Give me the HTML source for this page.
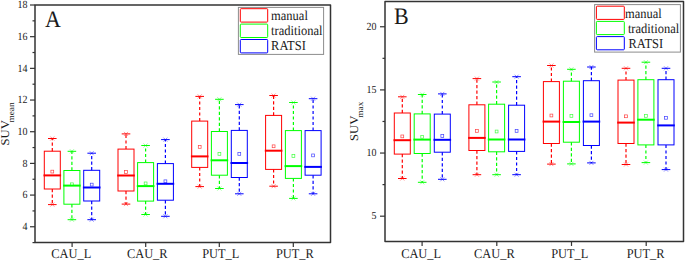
<!DOCTYPE html>
<html><head><meta charset="utf-8"><style>
html,body{margin:0;padding:0;background:#fff;}
svg{display:block;}
text{font-family:"Liberation Serif",serif;fill:#1a1a1a;text-rendering:geometricPrecision;}
.tk{font-size:10px;}
.xl{font-size:12.4px;}
.lg{font-size:12.5px;}
.pl{font-size:22px;}
.yl{font-size:11.8px;}
.sub{font-size:8.6px;}
</style></head><body>
<svg width="685" height="263" viewBox="0 0 685 263">
<rect x="35" y="5" width="295.5" height="237.6" fill="none" stroke="#333" stroke-width="1.5" stroke-linejoin="round"/>
<line x1="30" y1="226.76" x2="35" y2="226.76" stroke="#333" stroke-width="1.2"/>
<text transform="translate(27.5,230.16) scale(1,1.1)" text-anchor="end" class="tk">4</text>
<line x1="30" y1="195.08" x2="35" y2="195.08" stroke="#333" stroke-width="1.2"/>
<text transform="translate(27.5,198.48) scale(1,1.1)" text-anchor="end" class="tk">6</text>
<line x1="30" y1="163.4" x2="35" y2="163.4" stroke="#333" stroke-width="1.2"/>
<text transform="translate(27.5,166.8) scale(1,1.1)" text-anchor="end" class="tk">8</text>
<line x1="30" y1="131.72" x2="35" y2="131.72" stroke="#333" stroke-width="1.2"/>
<text transform="translate(27.5,135.12) scale(1,1.1)" text-anchor="end" class="tk">10</text>
<line x1="30" y1="100.04" x2="35" y2="100.04" stroke="#333" stroke-width="1.2"/>
<text transform="translate(27.5,103.44) scale(1,1.1)" text-anchor="end" class="tk">12</text>
<line x1="30" y1="68.36" x2="35" y2="68.36" stroke="#333" stroke-width="1.2"/>
<text transform="translate(27.5,71.76) scale(1,1.1)" text-anchor="end" class="tk">14</text>
<line x1="30" y1="36.68" x2="35" y2="36.68" stroke="#333" stroke-width="1.2"/>
<text transform="translate(27.5,40.08) scale(1,1.1)" text-anchor="end" class="tk">16</text>
<line x1="30" y1="5" x2="35" y2="5" stroke="#333" stroke-width="1.2"/>
<text transform="translate(27.5,8.4) scale(1,1.1)" text-anchor="end" class="tk">18</text>
<line x1="32.5" y1="242.6" x2="35" y2="242.6" stroke="#333" stroke-width="1.2"/>
<line x1="32.5" y1="210.92" x2="35" y2="210.92" stroke="#333" stroke-width="1.2"/>
<line x1="32.5" y1="179.24" x2="35" y2="179.24" stroke="#333" stroke-width="1.2"/>
<line x1="32.5" y1="147.56" x2="35" y2="147.56" stroke="#333" stroke-width="1.2"/>
<line x1="32.5" y1="115.88" x2="35" y2="115.88" stroke="#333" stroke-width="1.2"/>
<line x1="32.5" y1="84.2" x2="35" y2="84.2" stroke="#333" stroke-width="1.2"/>
<line x1="32.5" y1="52.52" x2="35" y2="52.52" stroke="#333" stroke-width="1.2"/>
<line x1="32.5" y1="20.84" x2="35" y2="20.84" stroke="#333" stroke-width="1.2"/>
<line x1="72.1" y1="242.6" x2="72.1" y2="247.1" stroke="#333" stroke-width="1.2"/>
<text transform="translate(71.25,257.8) scale(1,1.08)" text-anchor="middle" class="xl">CAU_L</text>
<line x1="145.7" y1="242.6" x2="145.7" y2="247.1" stroke="#333" stroke-width="1.2"/>
<text transform="translate(147.25,257.8) scale(1,1.08)" text-anchor="middle" class="xl">CAU_R</text>
<line x1="219.3" y1="242.6" x2="219.3" y2="247.1" stroke="#333" stroke-width="1.2"/>
<text transform="translate(220.75,257.8) scale(1,1.08)" text-anchor="middle" class="xl">PUT_L</text>
<line x1="293.3" y1="242.6" x2="293.3" y2="247.1" stroke="#333" stroke-width="1.2"/>
<text transform="translate(294.85,257.8) scale(1,1.08)" text-anchor="middle" class="xl">PUT_R</text>
<line x1="52.3" y1="151.2" x2="52.3" y2="138.5" stroke="#ff0000" stroke-width="1.2" stroke-dasharray="3.2 2.3"/>
<line x1="52.3" y1="189" x2="52.3" y2="204.6" stroke="#ff0000" stroke-width="1.2" stroke-dasharray="3.2 2.3"/>
<line x1="48" y1="138.5" x2="56.6" y2="138.5" stroke="#ff0000" stroke-width="1"/>
<path d="M50.3 136.5L54.3 140.5M54.3 136.5L50.3 140.5" stroke="#ff0000" stroke-width="0.7" opacity="0.6"/>
<line x1="48" y1="204.6" x2="56.6" y2="204.6" stroke="#ff0000" stroke-width="1"/>
<path d="M50.3 202.6L54.3 206.6M54.3 202.6L50.3 206.6" stroke="#ff0000" stroke-width="0.7" opacity="0.6"/>
<rect x="44.3" y="151.2" width="16" height="37.8" fill="none" stroke="#ff0000" stroke-width="1"/>
<line x1="43.5" y1="175.4" x2="61.1" y2="175.4" stroke="#ff0000" stroke-width="2"/>
<rect x="50.9" y="170.2" width="2.8" height="2.8" fill="none" stroke="#ff0000" stroke-width="0.7" opacity="0.75"/>
<line x1="71.9" y1="170.5" x2="71.9" y2="151.3" stroke="#00ff00" stroke-width="1.2" stroke-dasharray="3.2 2.3"/>
<line x1="71.9" y1="204.2" x2="71.9" y2="219.7" stroke="#00ff00" stroke-width="1.2" stroke-dasharray="3.2 2.3"/>
<line x1="67.6" y1="151.3" x2="76.2" y2="151.3" stroke="#00ff00" stroke-width="1"/>
<path d="M69.9 149.3L73.9 153.3M73.9 149.3L69.9 153.3" stroke="#00ff00" stroke-width="0.7" opacity="0.6"/>
<line x1="67.6" y1="219.7" x2="76.2" y2="219.7" stroke="#00ff00" stroke-width="1"/>
<path d="M69.9 217.7L73.9 221.7M73.9 217.7L69.9 221.7" stroke="#00ff00" stroke-width="0.7" opacity="0.6"/>
<rect x="63.9" y="170.5" width="16" height="33.7" fill="none" stroke="#00ff00" stroke-width="1"/>
<line x1="63.1" y1="185.6" x2="80.7" y2="185.6" stroke="#00ff00" stroke-width="2"/>
<rect x="70.5" y="182.9" width="2.8" height="2.8" fill="none" stroke="#00ff00" stroke-width="0.7" opacity="0.75"/>
<line x1="91.7" y1="170.3" x2="91.7" y2="153.2" stroke="#0000ff" stroke-width="1.2" stroke-dasharray="3.2 2.3"/>
<line x1="91.7" y1="201" x2="91.7" y2="219.7" stroke="#0000ff" stroke-width="1.2" stroke-dasharray="3.2 2.3"/>
<line x1="87.4" y1="153.2" x2="96" y2="153.2" stroke="#0000ff" stroke-width="1"/>
<path d="M89.7 151.2L93.7 155.2M93.7 151.2L89.7 155.2" stroke="#0000ff" stroke-width="0.7" opacity="0.6"/>
<line x1="87.4" y1="219.7" x2="96" y2="219.7" stroke="#0000ff" stroke-width="1"/>
<path d="M89.7 217.7L93.7 221.7M93.7 217.7L89.7 221.7" stroke="#0000ff" stroke-width="0.7" opacity="0.6"/>
<rect x="83.7" y="170.3" width="16" height="30.7" fill="none" stroke="#0000ff" stroke-width="1"/>
<line x1="82.9" y1="187.5" x2="100.5" y2="187.5" stroke="#0000ff" stroke-width="2"/>
<rect x="90.3" y="183.2" width="2.8" height="2.8" fill="none" stroke="#0000ff" stroke-width="0.7" opacity="0.75"/>
<line x1="126" y1="149.1" x2="126" y2="133.9" stroke="#ff0000" stroke-width="1.2" stroke-dasharray="3.2 2.3"/>
<line x1="126" y1="191" x2="126" y2="204.1" stroke="#ff0000" stroke-width="1.2" stroke-dasharray="3.2 2.3"/>
<line x1="121.7" y1="133.9" x2="130.3" y2="133.9" stroke="#ff0000" stroke-width="1"/>
<path d="M124 131.9L128 135.9M128 131.9L124 135.9" stroke="#ff0000" stroke-width="0.7" opacity="0.6"/>
<line x1="121.7" y1="204.1" x2="130.3" y2="204.1" stroke="#ff0000" stroke-width="1"/>
<path d="M124 202.1L128 206.1M128 202.1L124 206.1" stroke="#ff0000" stroke-width="0.7" opacity="0.6"/>
<rect x="118" y="149.1" width="16" height="41.9" fill="none" stroke="#ff0000" stroke-width="1"/>
<line x1="117.2" y1="175.5" x2="134.8" y2="175.5" stroke="#ff0000" stroke-width="2"/>
<rect x="124.6" y="170.6" width="2.8" height="2.8" fill="none" stroke="#ff0000" stroke-width="0.7" opacity="0.75"/>
<line x1="145.6" y1="162.6" x2="145.6" y2="145.5" stroke="#00ff00" stroke-width="1.2" stroke-dasharray="3.2 2.3"/>
<line x1="145.6" y1="201.1" x2="145.6" y2="214.5" stroke="#00ff00" stroke-width="1.2" stroke-dasharray="3.2 2.3"/>
<line x1="141.3" y1="145.5" x2="149.9" y2="145.5" stroke="#00ff00" stroke-width="1"/>
<path d="M143.6 143.5L147.6 147.5M147.6 143.5L143.6 147.5" stroke="#00ff00" stroke-width="0.7" opacity="0.6"/>
<line x1="141.3" y1="214.5" x2="149.9" y2="214.5" stroke="#00ff00" stroke-width="1"/>
<path d="M143.6 212.5L147.6 216.5M147.6 212.5L143.6 216.5" stroke="#00ff00" stroke-width="0.7" opacity="0.6"/>
<rect x="137.6" y="162.6" width="16" height="38.5" fill="none" stroke="#00ff00" stroke-width="1"/>
<line x1="136.8" y1="186.1" x2="154.4" y2="186.1" stroke="#00ff00" stroke-width="2"/>
<rect x="144.2" y="182" width="2.8" height="2.8" fill="none" stroke="#00ff00" stroke-width="0.7" opacity="0.75"/>
<line x1="165.4" y1="163.6" x2="165.4" y2="139.6" stroke="#0000ff" stroke-width="1.2" stroke-dasharray="3.2 2.3"/>
<line x1="165.4" y1="200.2" x2="165.4" y2="216.3" stroke="#0000ff" stroke-width="1.2" stroke-dasharray="3.2 2.3"/>
<line x1="161.1" y1="139.6" x2="169.7" y2="139.6" stroke="#0000ff" stroke-width="1"/>
<path d="M163.4 137.6L167.4 141.6M167.4 137.6L163.4 141.6" stroke="#0000ff" stroke-width="0.7" opacity="0.6"/>
<line x1="161.1" y1="216.3" x2="169.7" y2="216.3" stroke="#0000ff" stroke-width="1"/>
<path d="M163.4 214.3L167.4 218.3M167.4 214.3L163.4 218.3" stroke="#0000ff" stroke-width="0.7" opacity="0.6"/>
<rect x="157.4" y="163.6" width="16" height="36.6" fill="none" stroke="#0000ff" stroke-width="1"/>
<line x1="156.6" y1="183.8" x2="174.2" y2="183.8" stroke="#0000ff" stroke-width="2"/>
<rect x="164" y="179.9" width="2.8" height="2.8" fill="none" stroke="#0000ff" stroke-width="0.7" opacity="0.75"/>
<line x1="199.7" y1="121.1" x2="199.7" y2="96.4" stroke="#ff0000" stroke-width="1.2" stroke-dasharray="3.2 2.3"/>
<line x1="199.7" y1="167.4" x2="199.7" y2="186.6" stroke="#ff0000" stroke-width="1.2" stroke-dasharray="3.2 2.3"/>
<line x1="195.4" y1="96.4" x2="204" y2="96.4" stroke="#ff0000" stroke-width="1"/>
<path d="M197.7 94.4L201.7 98.4M201.7 94.4L197.7 98.4" stroke="#ff0000" stroke-width="0.7" opacity="0.6"/>
<line x1="195.4" y1="186.6" x2="204" y2="186.6" stroke="#ff0000" stroke-width="1"/>
<path d="M197.7 184.6L201.7 188.6M201.7 184.6L197.7 188.6" stroke="#ff0000" stroke-width="0.7" opacity="0.6"/>
<rect x="191.7" y="121.1" width="16" height="46.3" fill="none" stroke="#ff0000" stroke-width="1"/>
<line x1="190.9" y1="156.4" x2="208.5" y2="156.4" stroke="#ff0000" stroke-width="2"/>
<rect x="198.3" y="145.5" width="2.8" height="2.8" fill="none" stroke="#ff0000" stroke-width="0.7" opacity="0.75"/>
<line x1="219.4" y1="131.5" x2="219.4" y2="99.3" stroke="#00ff00" stroke-width="1.2" stroke-dasharray="3.2 2.3"/>
<line x1="219.4" y1="175.2" x2="219.4" y2="188.5" stroke="#00ff00" stroke-width="1.2" stroke-dasharray="3.2 2.3"/>
<line x1="215.1" y1="99.3" x2="223.7" y2="99.3" stroke="#00ff00" stroke-width="1"/>
<path d="M217.4 97.3L221.4 101.3M221.4 97.3L217.4 101.3" stroke="#00ff00" stroke-width="0.7" opacity="0.6"/>
<line x1="215.1" y1="188.5" x2="223.7" y2="188.5" stroke="#00ff00" stroke-width="1"/>
<path d="M217.4 186.5L221.4 190.5M221.4 186.5L217.4 190.5" stroke="#00ff00" stroke-width="0.7" opacity="0.6"/>
<rect x="211.4" y="131.5" width="16" height="43.7" fill="none" stroke="#00ff00" stroke-width="1"/>
<line x1="210.6" y1="160.3" x2="228.2" y2="160.3" stroke="#00ff00" stroke-width="2"/>
<rect x="218" y="152.5" width="2.8" height="2.8" fill="none" stroke="#00ff00" stroke-width="0.7" opacity="0.75"/>
<line x1="239.3" y1="130.4" x2="239.3" y2="104.6" stroke="#0000ff" stroke-width="1.2" stroke-dasharray="3.2 2.3"/>
<line x1="239.3" y1="177.5" x2="239.3" y2="193.8" stroke="#0000ff" stroke-width="1.2" stroke-dasharray="3.2 2.3"/>
<line x1="235" y1="104.6" x2="243.6" y2="104.6" stroke="#0000ff" stroke-width="1"/>
<path d="M237.3 102.6L241.3 106.6M241.3 102.6L237.3 106.6" stroke="#0000ff" stroke-width="0.7" opacity="0.6"/>
<line x1="235" y1="193.8" x2="243.6" y2="193.8" stroke="#0000ff" stroke-width="1"/>
<path d="M237.3 191.8L241.3 195.8M241.3 191.8L237.3 195.8" stroke="#0000ff" stroke-width="0.7" opacity="0.6"/>
<rect x="231.3" y="130.4" width="16" height="47.1" fill="none" stroke="#0000ff" stroke-width="1"/>
<line x1="230.5" y1="163" x2="248.1" y2="163" stroke="#0000ff" stroke-width="2"/>
<rect x="237.9" y="152.5" width="2.8" height="2.8" fill="none" stroke="#0000ff" stroke-width="0.7" opacity="0.75"/>
<line x1="273.6" y1="115.4" x2="273.6" y2="95.5" stroke="#ff0000" stroke-width="1.2" stroke-dasharray="3.2 2.3"/>
<line x1="273.6" y1="169.4" x2="273.6" y2="186.2" stroke="#ff0000" stroke-width="1.2" stroke-dasharray="3.2 2.3"/>
<line x1="269.3" y1="95.5" x2="277.9" y2="95.5" stroke="#ff0000" stroke-width="1"/>
<path d="M271.6 93.5L275.6 97.5M275.6 93.5L271.6 97.5" stroke="#ff0000" stroke-width="0.7" opacity="0.6"/>
<line x1="269.3" y1="186.2" x2="277.9" y2="186.2" stroke="#ff0000" stroke-width="1"/>
<path d="M271.6 184.2L275.6 188.2M275.6 184.2L271.6 188.2" stroke="#ff0000" stroke-width="0.7" opacity="0.6"/>
<rect x="265.6" y="115.4" width="16" height="54" fill="none" stroke="#ff0000" stroke-width="1"/>
<line x1="264.8" y1="150.7" x2="282.4" y2="150.7" stroke="#ff0000" stroke-width="2"/>
<rect x="272.2" y="144.9" width="2.8" height="2.8" fill="none" stroke="#ff0000" stroke-width="0.7" opacity="0.75"/>
<line x1="293.4" y1="130.6" x2="293.4" y2="102.5" stroke="#00ff00" stroke-width="1.2" stroke-dasharray="3.2 2.3"/>
<line x1="293.4" y1="178.4" x2="293.4" y2="198.4" stroke="#00ff00" stroke-width="1.2" stroke-dasharray="3.2 2.3"/>
<line x1="289.1" y1="102.5" x2="297.7" y2="102.5" stroke="#00ff00" stroke-width="1"/>
<path d="M291.4 100.5L295.4 104.5M295.4 100.5L291.4 104.5" stroke="#00ff00" stroke-width="0.7" opacity="0.6"/>
<line x1="289.1" y1="198.4" x2="297.7" y2="198.4" stroke="#00ff00" stroke-width="1"/>
<path d="M291.4 196.4L295.4 200.4M295.4 196.4L291.4 200.4" stroke="#00ff00" stroke-width="0.7" opacity="0.6"/>
<rect x="285.4" y="130.6" width="16" height="47.8" fill="none" stroke="#00ff00" stroke-width="1"/>
<line x1="284.6" y1="166.1" x2="302.2" y2="166.1" stroke="#00ff00" stroke-width="2"/>
<rect x="292" y="154.6" width="2.8" height="2.8" fill="none" stroke="#00ff00" stroke-width="0.7" opacity="0.75"/>
<line x1="313.1" y1="130.6" x2="313.1" y2="98.7" stroke="#0000ff" stroke-width="1.2" stroke-dasharray="3.2 2.3"/>
<line x1="313.1" y1="175.2" x2="313.1" y2="193.8" stroke="#0000ff" stroke-width="1.2" stroke-dasharray="3.2 2.3"/>
<line x1="308.8" y1="98.7" x2="317.4" y2="98.7" stroke="#0000ff" stroke-width="1"/>
<path d="M311.1 96.7L315.1 100.7M315.1 96.7L311.1 100.7" stroke="#0000ff" stroke-width="0.7" opacity="0.6"/>
<line x1="308.8" y1="193.8" x2="317.4" y2="193.8" stroke="#0000ff" stroke-width="1"/>
<path d="M311.1 191.8L315.1 195.8M315.1 191.8L311.1 195.8" stroke="#0000ff" stroke-width="0.7" opacity="0.6"/>
<rect x="305.1" y="130.6" width="16" height="44.6" fill="none" stroke="#0000ff" stroke-width="1"/>
<line x1="304.3" y1="166.9" x2="321.9" y2="166.9" stroke="#0000ff" stroke-width="2"/>
<rect x="311.7" y="154" width="2.8" height="2.8" fill="none" stroke="#0000ff" stroke-width="0.7" opacity="0.75"/>
<rect x="238.4" y="7.4" width="85.2" height="47" fill="#fff" stroke="#8c8c8c" stroke-width="1"/>
<rect x="240.3" y="8.7" width="27.4" height="13.4" fill="none" stroke="#ff0000" stroke-width="1" rx="0.8"/>
<text transform="translate(271.1,19.9) scale(1,1.09)" class="lg">manual</text>
<rect x="240.3" y="24.1" width="27.4" height="13.4" fill="none" stroke="#00ff00" stroke-width="1" rx="0.8"/>
<text transform="translate(271.1,35.2) scale(1,1.09)" class="lg">traditional</text>
<rect x="240.3" y="39.5" width="27.4" height="13.4" fill="none" stroke="#0000ff" stroke-width="1" rx="0.8"/>
<text transform="translate(271.1,50) scale(1,1.09)" class="lg">RATSI</text>
<text transform="translate(45,26.6) scale(1,1.07)" class="pl">A</text>
<text transform="translate(9,145.6) scale(1,1.08) rotate(-90)" class="yl">SUV<tspan class="sub" dx="-2.2" dy="4.8">mean</tspan></text>
<rect x="385" y="1.5" width="298.5" height="239.95" fill="none" stroke="#333" stroke-width="1.5" stroke-linejoin="round"/>
<line x1="380" y1="216.19" x2="385" y2="216.19" stroke="#333" stroke-width="1.2"/>
<text transform="translate(376.6,219.29) scale(1,1.08)" text-anchor="end" class="tk">5</text>
<line x1="380" y1="153.05" x2="385" y2="153.05" stroke="#333" stroke-width="1.2"/>
<text transform="translate(376.6,156.15) scale(1,1.08)" text-anchor="end" class="tk">10</text>
<line x1="380" y1="89.9" x2="385" y2="89.9" stroke="#333" stroke-width="1.2"/>
<text transform="translate(376.6,93) scale(1,1.08)" text-anchor="end" class="tk">15</text>
<line x1="380" y1="26.76" x2="385" y2="26.76" stroke="#333" stroke-width="1.2"/>
<text transform="translate(376.6,29.86) scale(1,1.08)" text-anchor="end" class="tk">20</text>
<line x1="382.5" y1="184.62" x2="385" y2="184.62" stroke="#333" stroke-width="1.2"/>
<line x1="382.5" y1="121.47" x2="385" y2="121.47" stroke="#333" stroke-width="1.2"/>
<line x1="382.5" y1="58.33" x2="385" y2="58.33" stroke="#333" stroke-width="1.2"/>
<line x1="422.1" y1="241.45" x2="422.1" y2="245.95" stroke="#333" stroke-width="1.2"/>
<text transform="translate(421.1,257.8) scale(1,1.08)" text-anchor="middle" class="xl">CAU_L</text>
<line x1="496.8" y1="241.45" x2="496.8" y2="245.95" stroke="#333" stroke-width="1.2"/>
<text transform="translate(494.35,257.8) scale(1,1.08)" text-anchor="middle" class="xl">CAU_R</text>
<line x1="571.5" y1="241.45" x2="571.5" y2="245.95" stroke="#333" stroke-width="1.2"/>
<text transform="translate(569.8,257.8) scale(1,1.08)" text-anchor="middle" class="xl">PUT_L</text>
<line x1="646.2" y1="241.45" x2="646.2" y2="245.95" stroke="#333" stroke-width="1.2"/>
<text transform="translate(645.6,257.8) scale(1,1.08)" text-anchor="middle" class="xl">PUT_R</text>
<line x1="402.3" y1="113" x2="402.3" y2="96.8" stroke="#ff0000" stroke-width="1.2" stroke-dasharray="3.2 2.3"/>
<line x1="402.3" y1="154.1" x2="402.3" y2="178.5" stroke="#ff0000" stroke-width="1.2" stroke-dasharray="3.2 2.3"/>
<line x1="398" y1="96.8" x2="406.6" y2="96.8" stroke="#ff0000" stroke-width="1"/>
<path d="M400.3 94.8L404.3 98.8M404.3 94.8L400.3 98.8" stroke="#ff0000" stroke-width="0.7" opacity="0.6"/>
<line x1="398" y1="178.5" x2="406.6" y2="178.5" stroke="#ff0000" stroke-width="1"/>
<path d="M400.3 176.5L404.3 180.5M404.3 176.5L400.3 180.5" stroke="#ff0000" stroke-width="0.7" opacity="0.6"/>
<rect x="394.3" y="113" width="16" height="41.1" fill="none" stroke="#ff0000" stroke-width="1"/>
<line x1="393.5" y1="140.2" x2="411.1" y2="140.2" stroke="#ff0000" stroke-width="2"/>
<rect x="400.9" y="135" width="2.8" height="2.8" fill="none" stroke="#ff0000" stroke-width="0.7" opacity="0.75"/>
<line x1="422.2" y1="113.9" x2="422.2" y2="94.5" stroke="#00ff00" stroke-width="1.2" stroke-dasharray="3.2 2.3"/>
<line x1="422.2" y1="153.5" x2="422.2" y2="182.3" stroke="#00ff00" stroke-width="1.2" stroke-dasharray="3.2 2.3"/>
<line x1="417.9" y1="94.5" x2="426.5" y2="94.5" stroke="#00ff00" stroke-width="1"/>
<path d="M420.2 92.5L424.2 96.5M424.2 92.5L420.2 96.5" stroke="#00ff00" stroke-width="0.7" opacity="0.6"/>
<line x1="417.9" y1="182.3" x2="426.5" y2="182.3" stroke="#00ff00" stroke-width="1"/>
<path d="M420.2 180.3L424.2 184.3M424.2 180.3L420.2 184.3" stroke="#00ff00" stroke-width="0.7" opacity="0.6"/>
<rect x="414.2" y="113.9" width="16" height="39.6" fill="none" stroke="#00ff00" stroke-width="1"/>
<line x1="413.4" y1="139.6" x2="431" y2="139.6" stroke="#00ff00" stroke-width="2"/>
<rect x="420.8" y="135.4" width="2.8" height="2.8" fill="none" stroke="#00ff00" stroke-width="0.7" opacity="0.75"/>
<line x1="442.3" y1="114.1" x2="442.3" y2="93.9" stroke="#0000ff" stroke-width="1.2" stroke-dasharray="3.2 2.3"/>
<line x1="442.3" y1="152.2" x2="442.3" y2="179.3" stroke="#0000ff" stroke-width="1.2" stroke-dasharray="3.2 2.3"/>
<line x1="438" y1="93.9" x2="446.6" y2="93.9" stroke="#0000ff" stroke-width="1"/>
<path d="M440.3 91.9L444.3 95.9M444.3 91.9L440.3 95.9" stroke="#0000ff" stroke-width="0.7" opacity="0.6"/>
<line x1="438" y1="179.3" x2="446.6" y2="179.3" stroke="#0000ff" stroke-width="1"/>
<path d="M440.3 177.3L444.3 181.3M444.3 177.3L440.3 181.3" stroke="#0000ff" stroke-width="0.7" opacity="0.6"/>
<rect x="434.3" y="114.1" width="16" height="38.1" fill="none" stroke="#0000ff" stroke-width="1"/>
<line x1="433.5" y1="139.8" x2="451.1" y2="139.8" stroke="#0000ff" stroke-width="2"/>
<rect x="440.9" y="134.6" width="2.8" height="2.8" fill="none" stroke="#0000ff" stroke-width="0.7" opacity="0.75"/>
<line x1="476.9" y1="104.8" x2="476.9" y2="78.6" stroke="#ff0000" stroke-width="1.2" stroke-dasharray="3.2 2.3"/>
<line x1="476.9" y1="150.5" x2="476.9" y2="174.7" stroke="#ff0000" stroke-width="1.2" stroke-dasharray="3.2 2.3"/>
<line x1="472.6" y1="78.6" x2="481.2" y2="78.6" stroke="#ff0000" stroke-width="1"/>
<path d="M474.9 76.6L478.9 80.6M478.9 76.6L474.9 80.6" stroke="#ff0000" stroke-width="0.7" opacity="0.6"/>
<line x1="472.6" y1="174.7" x2="481.2" y2="174.7" stroke="#ff0000" stroke-width="1"/>
<path d="M474.9 172.7L478.9 176.7M478.9 172.7L474.9 176.7" stroke="#ff0000" stroke-width="0.7" opacity="0.6"/>
<rect x="468.9" y="104.8" width="16" height="45.7" fill="none" stroke="#ff0000" stroke-width="1"/>
<line x1="468.1" y1="137.9" x2="485.7" y2="137.9" stroke="#ff0000" stroke-width="2"/>
<rect x="475.5" y="129.5" width="2.8" height="2.8" fill="none" stroke="#ff0000" stroke-width="0.7" opacity="0.75"/>
<line x1="496.6" y1="104.2" x2="496.6" y2="82" stroke="#00ff00" stroke-width="1.2" stroke-dasharray="3.2 2.3"/>
<line x1="496.6" y1="151.8" x2="496.6" y2="174.7" stroke="#00ff00" stroke-width="1.2" stroke-dasharray="3.2 2.3"/>
<line x1="492.3" y1="82" x2="500.9" y2="82" stroke="#00ff00" stroke-width="1"/>
<path d="M494.6 80L498.6 84M498.6 80L494.6 84" stroke="#00ff00" stroke-width="0.7" opacity="0.6"/>
<line x1="492.3" y1="174.7" x2="500.9" y2="174.7" stroke="#00ff00" stroke-width="1"/>
<path d="M494.6 172.7L498.6 176.7M498.6 172.7L494.6 176.7" stroke="#00ff00" stroke-width="0.7" opacity="0.6"/>
<rect x="488.6" y="104.2" width="16" height="47.6" fill="none" stroke="#00ff00" stroke-width="1"/>
<line x1="487.8" y1="139.5" x2="505.4" y2="139.5" stroke="#00ff00" stroke-width="2"/>
<rect x="495.2" y="130.1" width="2.8" height="2.8" fill="none" stroke="#00ff00" stroke-width="0.7" opacity="0.75"/>
<line x1="516.6" y1="105.2" x2="516.6" y2="76.7" stroke="#0000ff" stroke-width="1.2" stroke-dasharray="3.2 2.3"/>
<line x1="516.6" y1="151.4" x2="516.6" y2="174.7" stroke="#0000ff" stroke-width="1.2" stroke-dasharray="3.2 2.3"/>
<line x1="512.3" y1="76.7" x2="520.9" y2="76.7" stroke="#0000ff" stroke-width="1"/>
<path d="M514.6 74.7L518.6 78.7M518.6 74.7L514.6 78.7" stroke="#0000ff" stroke-width="0.7" opacity="0.6"/>
<line x1="512.3" y1="174.7" x2="520.9" y2="174.7" stroke="#0000ff" stroke-width="1"/>
<path d="M514.6 172.7L518.6 176.7M518.6 172.7L514.6 176.7" stroke="#0000ff" stroke-width="0.7" opacity="0.6"/>
<rect x="508.6" y="105.2" width="16" height="46.2" fill="none" stroke="#0000ff" stroke-width="1"/>
<line x1="507.8" y1="139.5" x2="525.4" y2="139.5" stroke="#0000ff" stroke-width="2"/>
<rect x="515.2" y="129.5" width="2.8" height="2.8" fill="none" stroke="#0000ff" stroke-width="0.7" opacity="0.75"/>
<line x1="551.4" y1="81.6" x2="551.4" y2="65.5" stroke="#ff0000" stroke-width="1.2" stroke-dasharray="3.2 2.3"/>
<line x1="551.4" y1="143.5" x2="551.4" y2="164.1" stroke="#ff0000" stroke-width="1.2" stroke-dasharray="3.2 2.3"/>
<line x1="547.1" y1="65.5" x2="555.7" y2="65.5" stroke="#ff0000" stroke-width="1"/>
<path d="M549.4 63.5L553.4 67.5M553.4 63.5L549.4 67.5" stroke="#ff0000" stroke-width="0.7" opacity="0.6"/>
<line x1="547.1" y1="164.1" x2="555.7" y2="164.1" stroke="#ff0000" stroke-width="1"/>
<path d="M549.4 162.1L553.4 166.1M553.4 162.1L549.4 166.1" stroke="#ff0000" stroke-width="0.7" opacity="0.6"/>
<rect x="543.4" y="81.6" width="16" height="61.9" fill="none" stroke="#ff0000" stroke-width="1"/>
<line x1="542.6" y1="121.6" x2="560.2" y2="121.6" stroke="#ff0000" stroke-width="2"/>
<rect x="550" y="114.1" width="2.8" height="2.8" fill="none" stroke="#ff0000" stroke-width="0.7" opacity="0.75"/>
<line x1="571.4" y1="81.2" x2="571.4" y2="69.3" stroke="#00ff00" stroke-width="1.2" stroke-dasharray="3.2 2.3"/>
<line x1="571.4" y1="142.2" x2="571.4" y2="163.9" stroke="#00ff00" stroke-width="1.2" stroke-dasharray="3.2 2.3"/>
<line x1="567.1" y1="69.3" x2="575.7" y2="69.3" stroke="#00ff00" stroke-width="1"/>
<path d="M569.4 67.3L573.4 71.3M573.4 67.3L569.4 71.3" stroke="#00ff00" stroke-width="0.7" opacity="0.6"/>
<line x1="567.1" y1="163.9" x2="575.7" y2="163.9" stroke="#00ff00" stroke-width="1"/>
<path d="M569.4 161.9L573.4 165.9M573.4 161.9L569.4 165.9" stroke="#00ff00" stroke-width="0.7" opacity="0.6"/>
<rect x="563.4" y="81.2" width="16" height="61" fill="none" stroke="#00ff00" stroke-width="1"/>
<line x1="562.6" y1="122" x2="580.2" y2="122" stroke="#00ff00" stroke-width="2"/>
<rect x="570" y="114.5" width="2.8" height="2.8" fill="none" stroke="#00ff00" stroke-width="0.7" opacity="0.75"/>
<line x1="591.4" y1="80.7" x2="591.4" y2="67" stroke="#0000ff" stroke-width="1.2" stroke-dasharray="3.2 2.3"/>
<line x1="591.4" y1="145.5" x2="591.4" y2="162.9" stroke="#0000ff" stroke-width="1.2" stroke-dasharray="3.2 2.3"/>
<line x1="587.1" y1="67" x2="595.7" y2="67" stroke="#0000ff" stroke-width="1"/>
<path d="M589.4 65L593.4 69M593.4 65L589.4 69" stroke="#0000ff" stroke-width="0.7" opacity="0.6"/>
<line x1="587.1" y1="162.9" x2="595.7" y2="162.9" stroke="#0000ff" stroke-width="1"/>
<path d="M589.4 160.9L593.4 164.9M593.4 160.9L589.4 164.9" stroke="#0000ff" stroke-width="0.7" opacity="0.6"/>
<rect x="583.4" y="80.7" width="16" height="64.8" fill="none" stroke="#0000ff" stroke-width="1"/>
<line x1="582.6" y1="121.6" x2="600.2" y2="121.6" stroke="#0000ff" stroke-width="2"/>
<rect x="590" y="113.8" width="2.8" height="2.8" fill="none" stroke="#0000ff" stroke-width="0.7" opacity="0.75"/>
<line x1="626" y1="80.1" x2="626" y2="68.3" stroke="#ff0000" stroke-width="1.2" stroke-dasharray="3.2 2.3"/>
<line x1="626" y1="143.5" x2="626" y2="164.5" stroke="#ff0000" stroke-width="1.2" stroke-dasharray="3.2 2.3"/>
<line x1="621.7" y1="68.3" x2="630.3" y2="68.3" stroke="#ff0000" stroke-width="1"/>
<path d="M624 66.3L628 70.3M628 66.3L624 70.3" stroke="#ff0000" stroke-width="0.7" opacity="0.6"/>
<line x1="621.7" y1="164.5" x2="630.3" y2="164.5" stroke="#ff0000" stroke-width="1"/>
<path d="M624 162.5L628 166.5M628 162.5L624 166.5" stroke="#ff0000" stroke-width="0.7" opacity="0.6"/>
<rect x="618" y="80.1" width="16" height="63.4" fill="none" stroke="#ff0000" stroke-width="1"/>
<line x1="617.2" y1="122.6" x2="634.8" y2="122.6" stroke="#ff0000" stroke-width="2"/>
<rect x="624.6" y="114.9" width="2.8" height="2.8" fill="none" stroke="#ff0000" stroke-width="0.7" opacity="0.75"/>
<line x1="645.9" y1="79.7" x2="645.9" y2="62.2" stroke="#00ff00" stroke-width="1.2" stroke-dasharray="3.2 2.3"/>
<line x1="645.9" y1="144.9" x2="645.9" y2="162.6" stroke="#00ff00" stroke-width="1.2" stroke-dasharray="3.2 2.3"/>
<line x1="641.6" y1="62.2" x2="650.2" y2="62.2" stroke="#00ff00" stroke-width="1"/>
<path d="M643.9 60.2L647.9 64.2M647.9 60.2L643.9 64.2" stroke="#00ff00" stroke-width="0.7" opacity="0.6"/>
<line x1="641.6" y1="162.6" x2="650.2" y2="162.6" stroke="#00ff00" stroke-width="1"/>
<path d="M643.9 160.6L647.9 164.6M647.9 160.6L643.9 164.6" stroke="#00ff00" stroke-width="0.7" opacity="0.6"/>
<rect x="637.9" y="79.7" width="16" height="65.2" fill="none" stroke="#00ff00" stroke-width="1"/>
<line x1="637.1" y1="119.7" x2="654.7" y2="119.7" stroke="#00ff00" stroke-width="2"/>
<rect x="644.5" y="114.5" width="2.8" height="2.8" fill="none" stroke="#00ff00" stroke-width="0.7" opacity="0.75"/>
<line x1="666" y1="79.7" x2="666" y2="68.3" stroke="#0000ff" stroke-width="1.2" stroke-dasharray="3.2 2.3"/>
<line x1="666" y1="144.9" x2="666" y2="169.6" stroke="#0000ff" stroke-width="1.2" stroke-dasharray="3.2 2.3"/>
<line x1="661.7" y1="68.3" x2="670.3" y2="68.3" stroke="#0000ff" stroke-width="1"/>
<path d="M664 66.3L668 70.3M668 66.3L664 70.3" stroke="#0000ff" stroke-width="0.7" opacity="0.6"/>
<line x1="661.7" y1="169.6" x2="670.3" y2="169.6" stroke="#0000ff" stroke-width="1"/>
<path d="M664 167.6L668 171.6M668 167.6L664 171.6" stroke="#0000ff" stroke-width="0.7" opacity="0.6"/>
<rect x="658" y="79.7" width="16" height="65.2" fill="none" stroke="#0000ff" stroke-width="1"/>
<line x1="657.2" y1="125.4" x2="674.8" y2="125.4" stroke="#0000ff" stroke-width="2"/>
<rect x="664.6" y="116.4" width="2.8" height="2.8" fill="none" stroke="#0000ff" stroke-width="0.7" opacity="0.75"/>
<rect x="594.6" y="4.6" width="85.8" height="47.5" fill="#fff" stroke="#8c8c8c" stroke-width="1"/>
<rect x="596.4" y="6.2" width="27.9" height="13.2" fill="none" stroke="#ff0000" stroke-width="1" rx="0.8"/>
<text transform="translate(625,18) scale(1,1.09)" class="lg">manual</text>
<rect x="596.4" y="21.4" width="27.9" height="13.2" fill="none" stroke="#00ff00" stroke-width="1" rx="0.8"/>
<text transform="translate(627.9,33.2) scale(1,1.09)" class="lg">traditional</text>
<rect x="596.4" y="36.6" width="27.9" height="13.2" fill="none" stroke="#0000ff" stroke-width="1" rx="0.8"/>
<text transform="translate(628.4,47.9) scale(1,1.09)" class="lg">RATSI</text>
<text transform="translate(394,23.6) scale(1,1.07)" class="pl">B</text>
<text transform="translate(358.3,141) scale(1,1.08) rotate(-90)" class="yl">SUV<tspan class="sub" dx="-2" dy="4.2">max</tspan></text>
</svg>
</body></html>
